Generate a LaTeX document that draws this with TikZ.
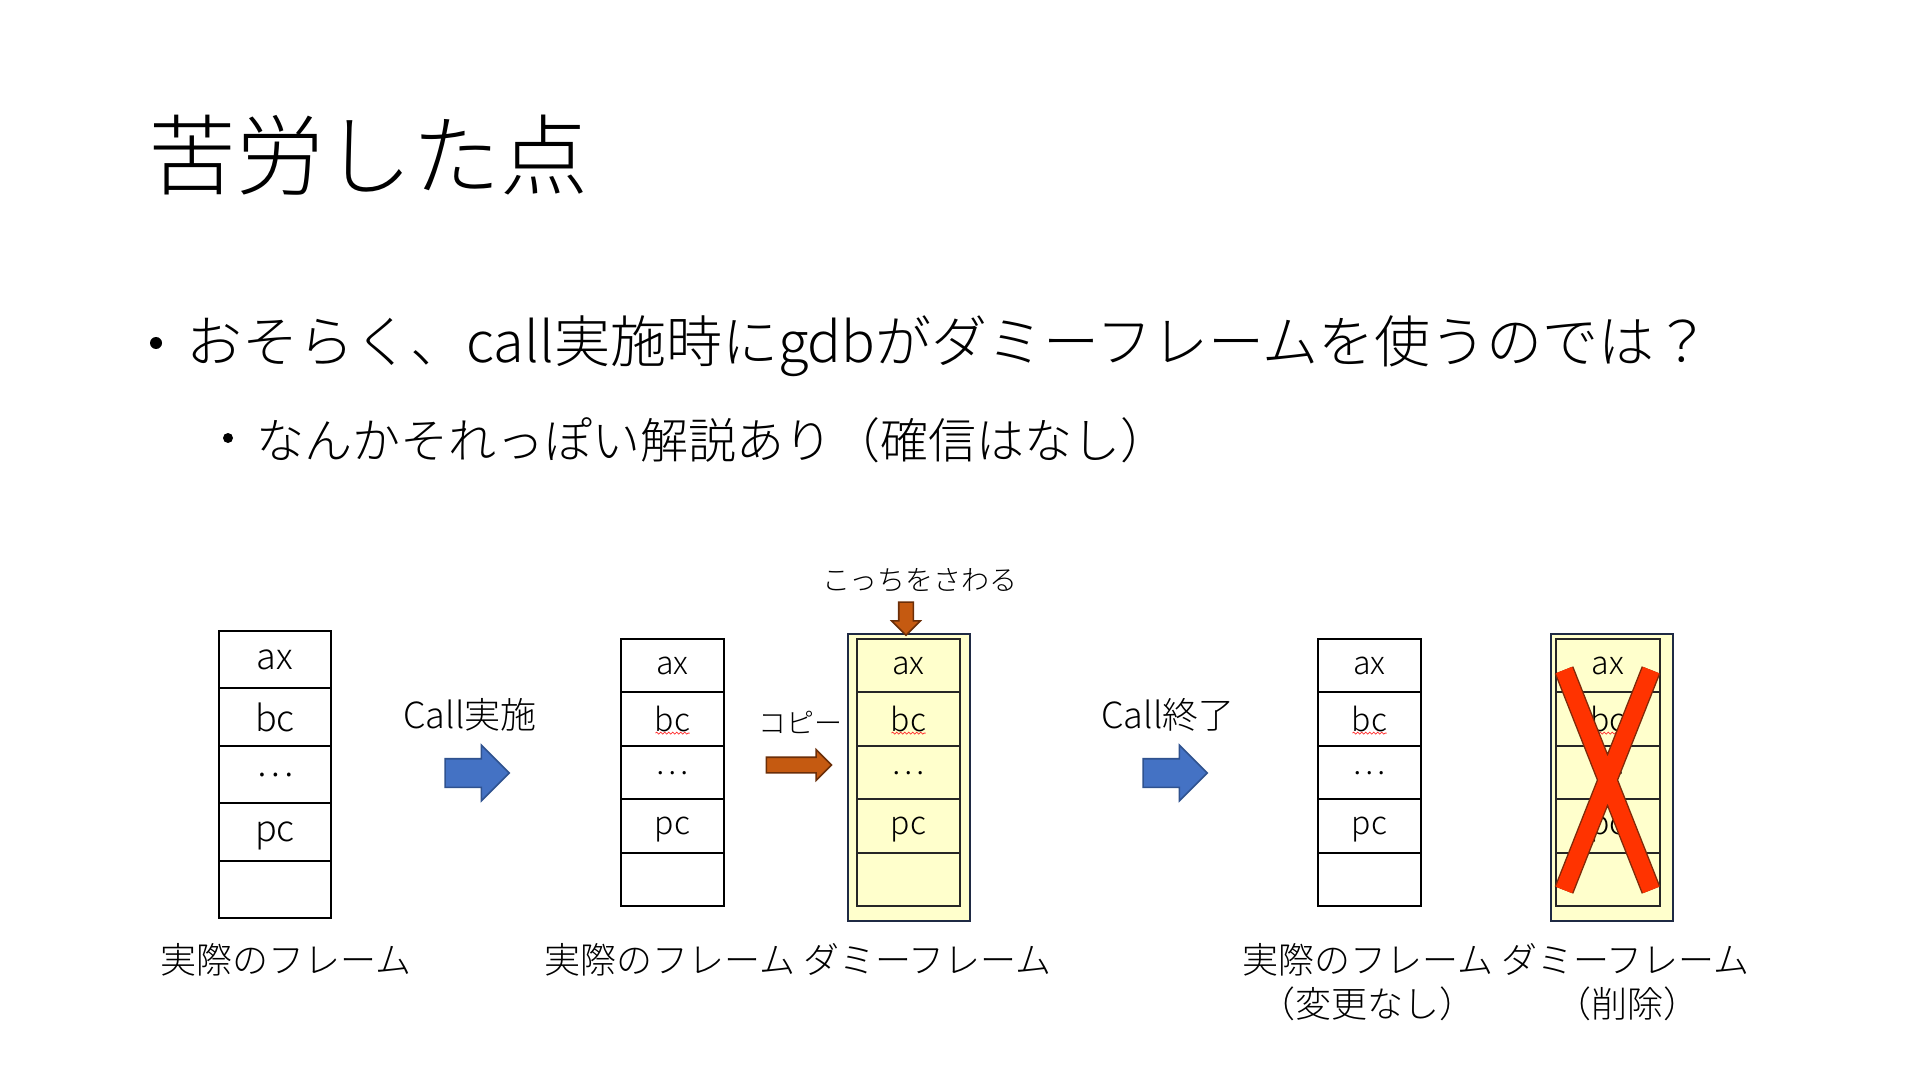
\documentclass[tikz,border=0pt]{standalone}
\usepackage{fontspec}
\setmainfont{Noto Sans CJK JP Light}
\usetikzlibrary{positioning,shapes.arrows,decorations.pathmorphing}
\definecolor{callblue}{HTML}{4472C4}
\definecolor{callline}{HTML}{2F528F}
\definecolor{copyorange}{HTML}{C55A11}
\definecolor{copyline}{HTML}{6B2E08}
\definecolor{dummyfill}{HTML}{FFFFCC}
\definecolor{dummyline}{HTML}{1F2A44}
\definecolor{crossred}{HTML}{FF3300}
\definecolor{crossline}{HTML}{7F2A0A}

\tikzset{
  txt/.style={inner sep=0pt, text=black},
  cell/.style 2 args={draw=black, line width=1pt, inner sep=0pt, anchor=north west,
    minimum width=#1, minimum height=#2, text depth=0pt},
  dummybox/.style={draw=dummyline, fill=dummyfill, line width=1pt, anchor=north west,
    minimum width=61pt, minimum height=143.5pt, inner sep=0pt},
  bigarrow/.style={single arrow, draw=callline, fill=callblue, line width=0.8pt,
    minimum height=32pt, inner xsep=0pt, inner ysep=6.75pt, single arrow head extend=6.75pt},
  copyarrow/.style={single arrow, draw=copyline, fill=copyorange, line width=0.8pt,
    inner xsep=0pt, inner ysep=3.5pt, single arrow head extend=3.75pt},
  spell/.style={draw=red!80, line width=0.4pt, decorate,
    decoration={snake, amplitude=0.5pt, segment length=2pt}},
}

\begin{document}
\begin{tikzpicture}[x=0.5pt,y=-0.5pt]
  % page
  \fill[white] (0,0) rectangle (1920,1080);
  \useasboundingbox (0,0) rectangle (1920,1080);

  % title and bullets
  \node[txt,anchor=west,font=\fontsize{44}{52}\selectfont] (title) at (148,155) {苦労した点};
  \node[circle,fill=black,inner sep=0pt,minimum size=6pt] (dot1) at (156,343) {};
  \node[txt,anchor=west,font=\fontsize{28}{34}\selectfont] (bullet1) at (186,346)
    {おそらく、call実施時にgdbがダミーフレームを使うのでは？};
  \node[circle,fill=black,inner sep=0pt,minimum size=5pt] (dot2) at (228,438) {};
  \node[txt,anchor=west,font=\fontsize{24}{29}\selectfont] (bullet2) at (256,440)
    {なんかそれっぽい解説あり（確信はなし）};

  % frame before the call
  \foreach \lbl [count=\i] in {ax,bc,…,pc,{}}
    \node[cell={56pt}{28.7pt},font=\fontsize{18}{20}\selectfont] (real1-\i)
      at (218,{630+57.4*(\i-1)}) {\lbl};
  \node[txt,font=\fontsize{18}{22}\selectfont] (real1lbl) at (286,960) {実際のフレーム};

  % call
  \node[txt,font=\fontsize{18}{22}\selectfont] (call1) at (470,715) {Call実施};
  \node[bigarrow] (go1) at (470,773) {};

  % frames during the call
  \node[dummybox] (dummy2) at (847,633) {};
  \foreach \lbl [count=\i] in {ax,bc,…,pc,{}} {
    \node[cell={51.5pt}{26.7pt},font=\fontsize{16}{20}\selectfont] (real2-\i)
      at (620,{638+53.4*(\i-1)}) {\lbl};
    \node[cell={51.5pt}{26.7pt},font=\fontsize{16}{20}\selectfont,draw=black!85] (dummy2-\i)
      at (856,{638+53.4*(\i-1)}) {\lbl};
  }
  \draw[spell] ([xshift=-8.5pt,yshift=-7pt]real2-2.center) -- ++(17pt,0);
  \draw[spell] ([xshift=-8.5pt,yshift=-7pt]dummy2-2.center) -- ++(17pt,0);
  \node[txt,font=\fontsize{14}{17}\selectfont] (copylbl) at (800,722) {コピー};
  \node[copyarrow,minimum height=32.5pt] (copy) at (795,765) {};
  \node[txt,font=\fontsize{14}{17}\selectfont] (touchlbl) at (920,580) {こっちをさわる};
  \node[copyarrow,rotate=-90,minimum height=16.5pt,inner ysep=3.25pt,
    single arrow head extend=3.5pt] (touch) at (906,615) {};
  \node[txt,font=\fontsize{18}{22}\selectfont] (frames2lbl) at (798,960)
    {実際のフレーム ダミーフレーム};

  % end of the call
  \node[txt,font=\fontsize{18}{22}\selectfont] (call2) at (1168,715) {Call終了};
  \node[bigarrow] (go2) at (1168,773) {};

  % frames after the call
  \node[dummybox] (dummy4) at (1550,633) {};
  \foreach \lbl [count=\i] in {ax,bc,…,pc,{}} {
    \node[cell={51.5pt}{26.7pt},font=\fontsize{16}{20}\selectfont] (real4-\i)
      at (1317,{638+53.4*(\i-1)}) {\lbl};
    \node[cell={52pt}{26.7pt},font=\fontsize{16}{20}\selectfont,draw=black!85] (dummy4-\i)
      at (1555,{638+53.4*(\i-1)}) {\lbl};
  }
  \draw[spell] ([xshift=-8.5pt,yshift=-7pt]real4-2.center) -- ++(17pt,0);
  \draw[spell] ([xshift=-8.5pt,yshift=-7pt]dummy4-2.center) -- ++(17pt,0);

  % red cross over the dummy frame
  \coordinate (xa) at (1564,670);
  \coordinate (xb) at (1651,890);
  \coordinate (xc) at (1651,670);
  \coordinate (xd) at (1564,890);
  \draw[crossline,line width=10pt] (xa) -- (xb) (xc) -- (xd);
  \draw[crossred,line width=8.6pt] (xa) -- (xb) (xc) -- (xd);

  \node[txt,font=\fontsize{18}{22}\selectfont] (frames4lbl) at (1496,960)
    {実際のフレーム ダミーフレーム};
  \node[txt,font=\fontsize{18}{22}\selectfont] (keptlbl) at (1367,1004) {（変更なし）};
  \node[txt,font=\fontsize{18}{22}\selectfont] (droplbl) at (1627,1004) {（削除）};
\end{tikzpicture}
\end{document}
